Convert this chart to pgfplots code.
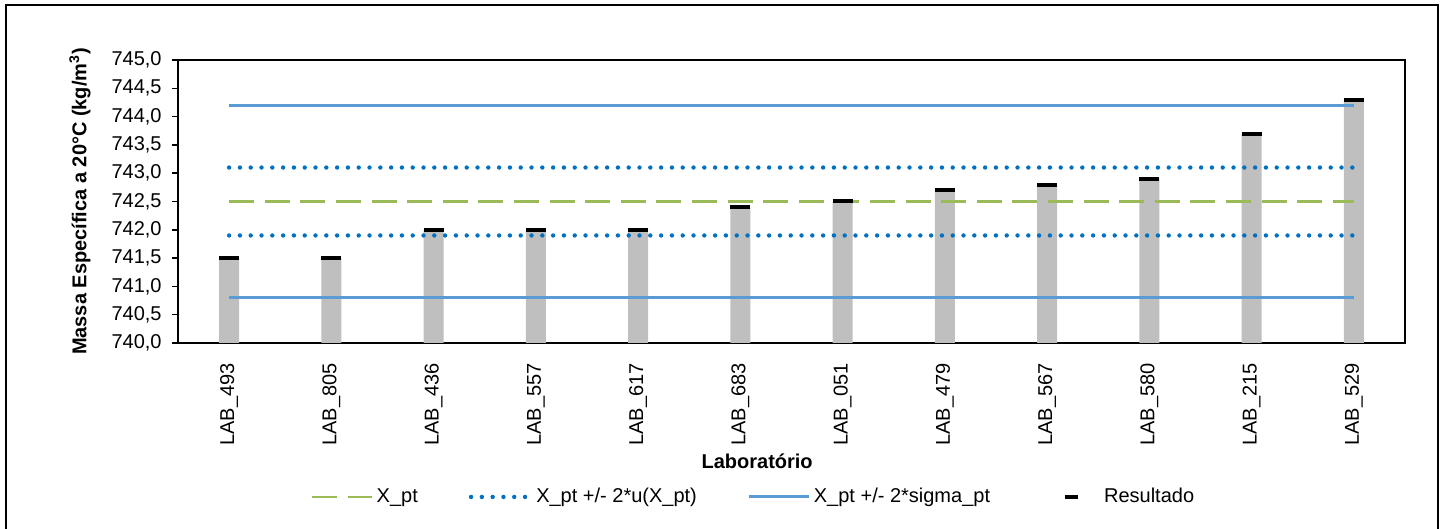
\documentclass[border=0pt]{standalone}
\usepackage{pgfplots}
\pgfplotsset{compat=1.18}
\usepackage{fontspec}
\setmainfont{Liberation Sans}
\definecolor{xgreen}{HTML}{9BBB59}
\definecolor{udot}{HTML}{0070C0}
\definecolor{sblue}{HTML}{5B9BD5}
\definecolor{bargray}{HTML}{BFBFBF}
\begin{document}
\begin{tikzpicture}[font=\fontsize{10}{12}\selectfont]
\useasboundingbox (0,0) rectangle (724pt,264.5pt);
\draw[line width=1pt] (3pt,-2pt) -- (3pt,262pt) -- (719pt,262pt) -- (719pt,-2pt);
\begin{axis}[
  at={(89pt,93pt)}, anchor=south west,
  scale only axis, width=613.5pt, height=141.5pt,
  xmin=-0.5, xmax=11.5, ymin=740, ymax=745,
  axis line style={line width=0.9pt},
  xtick={0,1,2,3,4,5,6,7,8,9,10,11},
  xticklabels={LAB\_493,LAB\_805,LAB\_436,LAB\_557,LAB\_617,LAB\_683,LAB\_051,LAB\_479,LAB\_567,LAB\_580,LAB\_215,LAB\_529},
  xtick style={draw=none},
  ytick={740,740.5,741,741.5,742,742.5,743,743.5,744,744.5,745},
  ytick pos=left,
  tick align=outside,
  major tick length=3pt,
  ytick style={line width=0.8pt, black},
  /pgf/number format/.cd, fixed, fixed zerofill, precision=1, use comma, assume math mode=true,
  /pgfplots/.cd,
  yticklabel style={anchor=east, inner sep=0pt, xshift=-5pt},
  xticklabel style={rotate=90, anchor=east, inner sep=0pt, xshift=-7pt},
  ylabel={\bfseries Massa Específica a 20°C (kg/m\textsuperscript{3})},
  ylabel style={at={(axis description cs:-0.0799,0.5)}, anchor=center, rotate=0},
  xlabel={\bfseries Laboratório},
  xlabel style={at={(axis description cs:0.472,-0.417)}, anchor=center},
  legend columns=4,
  legend cell align=left,
  legend style={at={(axis description cs:0.108,-0.544)}, anchor=west, draw=none, fill=none,
    inner sep=0pt, nodes={inner sep=0pt},
    /tikz/every odd column/.append style={column sep=1.5pt},
    /tikz/every even column/.append style={column sep=25.5pt}},
  legend image code/.code={\path[draw=none,fill=none] (0pt,0pt) -- (30pt,0pt); \draw[#1] (0pt,0pt) -- (30pt,0pt);},
]
\addplot[ybar, bar width=10pt, fill=bargray, draw=none, forget plot] coordinates {
(0,741.5) (1,741.5) (2,742.0) (3,742.0) (4,742.0) (5,742.4)
(6,742.5) (7,742.7) (8,742.8) (9,742.9) (10,743.7) (11,744.3)};
\addplot[xgreen, line width=1.4pt, dash pattern=on 12.5pt off 5.3pt] coordinates {(0,742.5) (11,742.5)};
\addlegendentry{X\_pt}
\addplot[udot, line width=2.2pt, line cap=round, dash pattern=on 0pt off 5.4pt] coordinates {(0,743.1) (11,743.1)};
\addlegendentry{X\_pt +/- 2*u(X\_pt)}
\addplot[udot, line width=2.2pt, line cap=round, dash pattern=on 0pt off 5.4pt, forget plot] coordinates {(0,741.9) (11,741.9)};
\addplot[sblue, line width=1.5pt] coordinates {(0,744.2) (11,744.2)};
\addlegendentry{X\_pt +/- 2*sigma\_pt}
\addplot[sblue, line width=1.5pt, forget plot] coordinates {(0,740.8) (11,740.8)};
\addplot[only marks, mark=-, mark size=5pt, mark options={line width=2pt, black},
  legend image code/.code={\path[draw=none,fill=none] (0pt,0pt) -- (30pt,0pt); \draw[black, line width=2pt] (12pt,0pt) -- (18.5pt,0pt);}] coordinates {
(0,741.5) (1,741.5) (2,742.0) (3,742.0) (4,742.0) (5,742.4)
(6,742.5) (7,742.7) (8,742.8) (9,742.9) (10,743.7) (11,744.3)};
\addlegendentry{Resultado}
\end{axis}
\end{tikzpicture}
\end{document}
